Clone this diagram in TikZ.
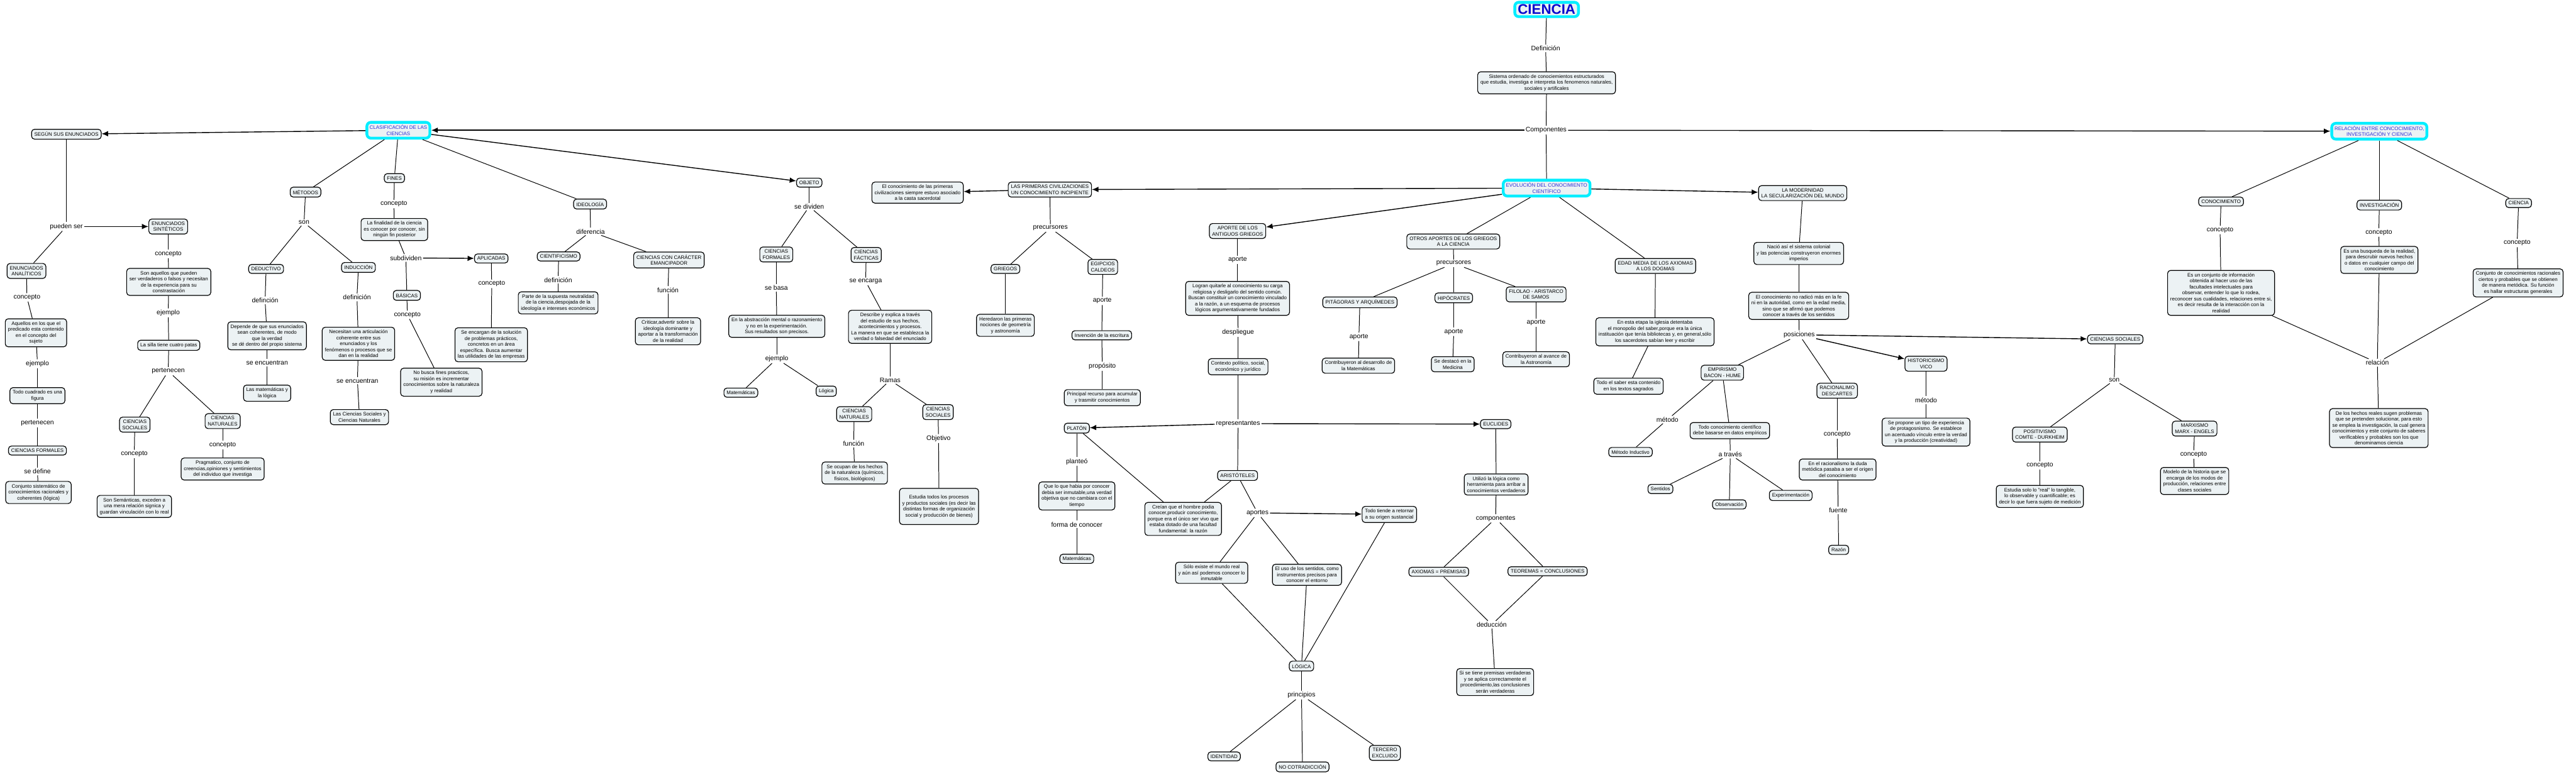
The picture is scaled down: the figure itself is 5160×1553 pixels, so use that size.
\documentclass[tikz,border=0pt]{standalone}
\usepackage{fontspec}
\setmainfont{Liberation Sans}
\usepackage{xcolor}
\usepackage{tikz}
\usetikzlibrary{arrows.meta}

\definecolor{boxfill}{RGB}{236,242,244}
\definecolor{hubcyan}{RGB}{0,238,255}
\definecolor{hubblue}{RGB}{45,45,215}
\definecolor{titleblue}{RGB}{10,10,205}

\tikzset{
  box/.style={draw, rounded corners=1.2mm, fill=boxfill, line width=0.3mm, align=center,
    inner xsep=1.1mm, inner ysep=1.1mm, font=\fontsize{5.7}{6.8}\selectfont},
  hub/.style={box, draw=hubcyan, line width=1.1mm, text=hubblue, rounded corners=1.6mm},
  titlebox/.style={hub, text=titleblue, inner xsep=1.2mm, inner ysep=0.9mm, font=\fontsize{16}{18}\selectfont\bfseries},
  lnk/.style={fill=white, inner sep=0.5mm, font=\fontsize{7.5}{8}\selectfont},
  ln/.style={line width=0.25mm},
  arr/.style={line width=0.35mm, -{Latex[length=2.6mm,width=2.2mm]}},
}

\begin{document}
\begin{tikzpicture}[x=0.2mm, y=-0.2mm]
  \fill[white] (0,0) rectangle (5160,1553);
  \useasboundingbox (0,0) rectangle (5160,1553);

  % centro
  \node[titlebox] (ciencia) at (3098,19) {CIENCIA};
  \node[lnk] (ldef) at (3096,97) {Definición};
  \node[box] (sistema) at (3098,166) {Sistema ordenado de conociemientos estructurados\\que estudia, investiga e interpreta los fenomenos naturales,\\sociales y artificales};
  \node[lnk] (lcomp) at (3097,261) {Componentes};
  \node[hub] (clasif) at (798,261) {CLASIFICACIÓN DE LAS\\CIENCIAS};
  \node[hub] (evol) at (3098,377) {EVOLUCIÓN DEL CONOCIMIENTO\\CIENTÍFICO};
  \node[hub] (relac) at (4766,263) {RELACIÓN ENTRE CONCOCIMIENTO,\\INVESTIGACIÓN Y CIENCIA};

  % enunciados
  \node[box] (segun) at (133,269) {SEGÚN SUS ENUNCIADOS};
  \node[lnk] (lpueden) at (133,454) {pueden ser};
  \node[box] (sint) at (337,454) {ENUNCIADOS\\SINTÉTICOS};
  \node[box] (anal) at (53,543) {ENUNCIADOS\\ANALÍTICOS};
  \node[lnk] (lanal) at (54,596) {concepto};
  \node[box] (aquellos) at (72,667) {Aquellos en los que el\\predicado esta contenido\\en el concepto del\\sujeto};
  \node[lnk] (lej1) at (75,729) {ejemplo};
  \node[box] (cuadrado) at (75,793) {Todo cuadrado es una\\figura};
  \node[lnk] (lpert1) at (75,848) {pertenecen};
  \node[box] (cform1) at (75,903) {CIENCIAS FORMALES};
  \node[lnk] (ldefine) at (75,945) {se define};
  \node[box] (conjsist) at (77,987) {Conjunto sistemático de\\conocimientos racionales y\\coherentes (lógica)};
  \node[lnk] (lsint) at (337,509) {concepto};
  \node[box] (sonaq) at (338,565) {Son aquellos que pueden\\ser verdaderos o falsos y necesitan\\de la experiencia para su\\constrastación};
  \node[lnk] (lej2) at (337,627) {ejemplo};
  \node[box] (silla) at (338,692) {La silla tiene cuatro patas};
  \node[lnk] (lpert2) at (337,744) {pertenecen};
  \node[box] (csoc1) at (270,851) {CIENCIAS\\SOCIALES};
  \node[box] (cnat1) at (446,844) {CIENCIAS\\NATURALES};
  \node[lnk] (lcsoc1) at (269,910) {concepto};
  \node[lnk] (lcnat1) at (446,892) {concepto};
  \node[box] (semant) at (269,1015) {Son Semánticas, exceden a\\una mera relación signica y\\guardan vinculación con lo real};
  \node[box] (pragm) at (446,940) {Pragmatico, conjunto de\\creencias,opiniones y sentimientos\\del individuo que investiga};

  % metodos
  \node[box] (metodos) at (612,385) {MÉTODOS};
  \node[lnk] (lson1) at (609,446) {son};
  \node[box] (deduc) at (533,539) {DEDUCTIVO};
  \node[box] (induc) at (718,536) {INDUCCIÓN};
  \node[lnk] (ldeduc) at (531,602) {definción};
  \node[box] (depende) at (535,673) {Depende de que sus enunciados\\sean coherentes, de modo\\que la verdad\\se dé dentro del propio sistema};
  \node[lnk] (lenc1) at (535,727) {se encuentran};
  \node[box] (matlog) at (535,788) {Las matemáticas y\\la lógica};
  \node[lnk] (linduc) at (715,596) {definición};
  \node[box] (necesitan) at (718,689) {Necesitan una articulación\\coherente entre sus\\enunciados y los\\fenómenos o procesos que se\\dan en la realidad};
  \node[lnk] (lenc2) at (716,763) {se encuentran};
  \node[box] (csycn) at (720,836) {Las Ciencias Sociales y\\Ciencias Naturales};

  % fines
  \node[box] (fines) at (790,357) {FINES};
  \node[lnk] (lfines) at (789,409) {concepto};
  \node[box] (finalidad) at (790,460) {La finalidad de la ciencia\\es conocer por conocer, sin\\ningún fin posterior};
  \node[lnk] (lsubdiv) at (813,517) {subdividen};
  \node[box] (aplic) at (984,518) {APLICADAS};
  \node[box] (basic) at (815,592) {BÁSICAS};
  \node[lnk] (lbasic) at (816,631) {concepto};
  \node[box] (nobusca) at (884,766) {No busca fines practicos,\\su misión es incrementar\\conocimientos sobre la naturaleza\\y realidad};
  \node[lnk] (laplic) at (985,569) {concepto};
  \node[box] (encargan) at (984,691) {Se encargan de la solución\\de problemas prácticos,\\concretos en un área\\específica. Busca aumentar\\las utilidades de las empresas};

  % ideologia
  \node[box] (ideol) at (1182,409) {IDEOLOGÍA};
  \node[lnk] (ldifer) at (1183,464) {diferencia};
  \node[box] (cientif) at (1119,514) {CIENTIFICISMO};
  \node[box] (emancip) at (1340,521) {CIENCIAS CON CARÁCTER\\EMANCIPADOR};
  \node[lnk] (lcientif) at (1118,561) {definición};
  \node[box] (parte) at (1118,607) {Parte de la supuesta neutralidad\\de la ciencia,despojada de la\\ideología e intereses económicos};
  \node[lnk] (lemanc) at (1338,581) {función};
  \node[box] (criticar) at (1338,664) {Criticar,advertir sobre la\\ideología dominante y\\aportar a la transformación\\de la realidad};

  % objeto
  \node[box] (objeto) at (1621,366) {OBJETO};
  \node[lnk] (ldivid) at (1621,414) {se dividen};
  \node[box] (cform2) at (1555,510) {CIENCIAS\\FORMALES};
  \node[box] (cfact) at (1735,511) {CIENCIAS\\FÁCTICAS};
  \node[lnk] (lbasa) at (1555,577) {se basa};
  \node[box] (abstrac) at (1556,654) {En la abstracción mental o razonamiento\\y no en la experimentación.\\Sus resultados son precisos.};
  \node[lnk] (lej3) at (1556,719) {ejemplo};
  \node[box] (matem1) at (1484,787) {Matemáticas};
  \node[box] (logica1) at (1655,784) {Lógica};
  \node[lnk] (lencarga) at (1734,564) {se encarga};
  \node[box] (describe) at (1783,655) {Describe y explica a través\\del estudio de sus hechos,\\acontecimientos y procesos.\\La manera en que se establezca la\\verdad o falsedad del enunciado};
  \node[lnk] (lramas) at (1783,762) {Ramas};
  \node[box] (cnat2) at (1711,830) {CIENCIAS\\NATURALES};
  \node[box] (csoc2) at (1879,826) {CIENCIAS\\SOCIALES};
  \node[lnk] (lfunc) at (1710,889) {función};
  \node[lnk] (lobj) at (1880,879) {Objetivo};
  \node[box] (seocupan) at (1712,948) {Se ocupan de los hechos\\de la naturaleza (químicos,\\físicos, biológicos)};
  \node[box, minimum height=14.5mm] (estudia) at (1881,1015) {Estudia todos los procesos\\y productos sociales (es decir las\\distintas formas de organización\\social y producción de bienes)};

  % primeras civilizaciones
  \node[box] (primciv) at (2103,380) {LAS PRIMERAS CIVILIZACIONES\\UN CONOCIMIENTO INCIPIENTE};
  \node[box] (conprim) at (1838,386) {El conocimiento de las primeras\\civilizaciones siempre estuvo asociado\\a la casta sacerdotal};
  \node[lnk] (lprec1) at (2104,457) {precursores};
  \node[box] (griegos) at (2014,539) {GRIEGOS};
  \node[box] (egipc) at (2209,535) {EGIPCIOS\\CALDEOS};
  \node[box] (heredaron) at (2014,652) {Heredaron las primeras\\nociones de geometría\\y astronomía};
  \node[lnk] (lap1) at (2208,603) {aporte};
  \node[box] (invenc) at (2207,672) {Invención de la escritura};
  \node[lnk] (lprop) at (2208,734) {propósito};
  \node[box] (recurso) at (2208,797) {Principal recurso para acumular\\y trasmitir conocimientos};

  % antiguos griegos
  \node[box] (antgr) at (2479,463) {APORTE DE LOS\\ANTIGUOS GRIEGOS};
  \node[lnk] (lap2) at (2479,521) {aporte};
  \node[box] (logran) at (2479,598) {Logran quitarle al conocimiento su carga\\religiosa y desligarlo del sentido común.\\Buscan constituir un conocimiento vinculado\\a la razón, a un esquema de procesos\\lógicos argumentativamente fundados};
  \node[lnk] (ldespl) at (2480,666) {despliegue};
  \node[box] (contexto) at (2480,735) {Contexto político, social,\\económico y jurídico};
  \node[lnk] (lrepr) at (2480,849) {representantes};
  \node[box] (platon) at (2157,858) {PLATÓN};
  \node[box] (euclides) at (2996,850) {EUCLIDES};
  \node[box] (aristo) at (2479,953) {ARISTÓTELES};
  \node[lnk] (lplant) at (2157,925) {planteó};
  \node[box] (queloque) at (2157,994) {Que lo que habia por conocer\\debia ser inmutable,una verdad\\objetiva que no cambiara con el\\tiempo};
  \node[lnk] (lforma) at (2157,1051) {forma de conocer};
  \node[box] (matem2) at (2157,1120) {Matemáticas};
  \node[box] (creian) at (2370,1040) {Creían que el hombre podia\\conocer,producir conocimiento,\\porque era el único ser vivo que\\estaba dotado de una facultad\\fundamental: la razón};
  \node[lnk] (laportes) at (2519,1028) {aportes};
  \node[box] (soloex) at (2427,1148) {Sólo existe el mundo real\\y aún así podemos conocer lo\\inmutable};
  \node[box] (usosent) at (2618,1152) {El uso de los sentidos, como\\instrumentos precisos para\\conocer el entorno};
  \node[box] (tiende) at (2783,1031) {Todo tiende a retornar\\a su origen sustancial};
  \node[box] (logica2) at (2607,1335) {LÓGICA};
  \node[lnk] (lprinc) at (2607,1393) {principios};
  \node[box] (identidad) at (2452,1516) {IDENTIDAD};
  \node[box] (nocontr) at (2609,1537) {NO COTRADICCIÓN};
  \node[box] (tercero) at (2774,1509) {TERCERO\\EXCLUIDO};
  \node[box] (utilizo) at (2997,971) {Utilizó la lógica como\\herramienta para arribar a\\conocimientos verdaderos};
  \node[lnk] (lcompo) at (2996,1039) {componentes};
  \node[box] (axiomas) at (2882,1146) {AXIOMAS = PREMISAS};
  \node[box] (teoremas) at (3100,1145) {TEOREMAS = CONCLUSIONES};
  \node[lnk] (ldeduc2) at (2988,1252) {deducción};
  \node[box] (sitiene) at (2995,1367) {Si se tiene premisas verdaderas\\y se aplica correctamente el\\procedimiento,las conclusiones\\serán verdaderas};

  % otros aportes
  \node[box] (otros) at (2911,484) {OTROS APORTES DE LOS GRIEGOS\\A LA CIENCIA};
  \node[lnk] (lprec2) at (2912,528) {precursores};
  \node[box] (pitag) at (2724,606) {PITÁGORAS Y ARQUÍMEDES};
  \node[box] (hipocr) at (2912,597) {HIPÓCRATES};
  \node[box] (filolao) at (3077,590) {FILOLAO - ARISTARCO\\DE SAMOS};
  \node[lnk] (lap3) at (2722,675) {aporte};
  \node[lnk] (lap4) at (2912,665) {aporte};
  \node[lnk] (lap5) at (3077,647) {aporte};
  \node[box] (contrmat) at (2721,733) {Contribuyeron al desarrollo de\\la Matemáticas};
  \node[box] (destaco) at (2910,730) {Se destacó en la\\Medicina};
  \node[box] (contrast) at (3077,720) {Contribuyeron al avance de\\la Astronomía};

  % edad media
  \node[box] (edadmed) at (3316,533) {EDAD MEDIA DE LOS AXIOMAS\\A LOS DOGMAS};
  \node[box] (etapa) at (3315,665) {En esta etapa la iglesia detentaba\\el monopolio del saber,porque era la única\\instituación que tenía bibliotecas y, en general,sólo\\los sacerdotes sabían leer y escribir};
  \node[box] (saber) at (3262,774) {Todo el saber esta contenido\\en los textos sagrados};

  % modernidad
  \node[box] (modern) at (3611,387) {LA MODERNIDAD\\LA SECULARIZACIÓN DEL MUNDO};
  \node[box] (nacio) at (3603,508) {Nació así el sistema colonial\\y las potencias construyeron enormes\\imperios};
  \node[box] (noradico) at (3603,613) {El conocimiento no radicó más en la fe\\ni en la autoridad, como en la edad media,\\sino que se afirmó que podemos\\conocer a través de los sentidos};
  \node[lnk] (lpos) at (3604,671) {posiciones};
  \node[box] (empir) at (3450,747) {EMPIRISMO\\BACON - HUME};
  \node[box] (racion) at (3680,783) {RACIONALIMO\\DESCARTES};
  \node[box] (histor) at (3858,729) {HISTORICISMO\\VICO};
  \node[box] (csoc3) at (4237,680) {CIENCIAS SOCIALES};
  \node[lnk] (lmet1) at (3340,841) {método};
  \node[box] (metind) at (3266,906) {Método Inductivo};
  \node[box] (datosemp) at (3465,863) {Todo conocimiento científico\\debe basarse en datos empíricos};
  \node[lnk] (ltraves) at (3466,911) {a través};
  \node[box] (sentidos) at (3326,980) {Sentidos};
  \node[box] (observ) at (3464,1011) {Observación};
  \node[box] (experim) at (3587,993) {Experimentación};
  \node[lnk] (lcrac) at (3680,871) {concepto};
  \node[box] (duda) at (3681,941) {En el racionalismo la duda\\metódica pasaba a ser el origen\\del conocimiento};
  \node[lnk] (lfuente) at (3682,1023) {fuente};
  \node[box] (razon) at (3683,1102) {Razón};
  \node[lnk] (lmet2) at (3858,802) {método};
  \node[box] (propone) at (3858,866) {Se propone un tipo de experiencia\\de protagosnismo. Se establece\\un acentuado vínculo entre la verdad\\y la producción (creatividad)};
  \node[lnk] (lson2) at (4235,762) {son};
  \node[box] (positiv) at (4086,871) {POSITIVISMO\\COMTE - DURKHEIM};
  \node[box] (marx) at (4396,859) {MARXISMO\\MARX - ENGELS};
  \node[lnk] (lpos2) at (4086,933) {concepto};
  \node[lnk] (lmarx) at (4394,911) {concepto};
  \node[box] (estsolo) at (4086,995) {Estudia solo lo "real" lo tangible,\\lo observable y cuantificable; es\\decir lo que fuera sujeto de medición};
  \node[box] (modelo) at (4396,964) {Modelo de la historia que se\\encarga de los modos de\\producción, relaciones entre\\clases sociales};

  % relacion
  \node[box] (conoc) at (4449,404) {CONOCIMIENTO};
  \node[box] (invest) at (4766,411) {INVESTIGACIÓN};
  \node[box] (cienc2) at (5045,407) {CIENCIA};
  \node[lnk] (lc1) at (4447,461) {concepto};
  \node[lnk] (lc2) at (4765,466) {concepto};
  \node[lnk] (lc3) at (5042,487) {concepto};
  \node[box] (esconj) at (4449,587) {Es un conjunto de información\\obtenida al hacer uso de las\\facultades intelectuales para\\observar, entender lo que lo rodea,\\reconocer sus cualidades, relaciones entre si,\\es decir resulta de la interacción con la\\realidad};
  \node[box] (busqueda) at (4766,521) {Es una busqueda de la realidad,\\para descrubir nuevos hechos\\o datos en cualquier campo del\\conocimiento};
  \node[box] (conjrac) at (5044,567) {Conjunto de conocimientos racionales\\ciertos y probables que se obtienen\\de manera metódica. Su función\\es hallar estructuras generales};
  \node[lnk] (lrel) at (4762,727) {relación};
  \node[box] (hechos) at (4765,858) {De los hechos reales sugen problemas\\que se pretenden solucionar, para esto\\se emplea la investigación, la cual genera\\conocimientos y este conjunto de saberes\\verificables y probables son los que\\denominamos ciencia};

  % conectores
  \path[ln]
    (ciencia) edge (ldef) (ldef) edge (sistema) (sistema) edge (lcomp) (lcomp) edge (evol)
    (clasif) edge (metodos) (clasif) edge (fines) (clasif) edge (ideol)
    (segun) edge (lpueden) (lpueden) edge (anal)
    (anal) edge (lanal) (lanal) edge (aquellos) (aquellos) edge (lej1) (lej1) edge (cuadrado)
    (cuadrado) edge (lpert1) (lpert1) edge (cform1) (cform1) edge (ldefine) (ldefine) edge (conjsist)
    (sint) edge (lsint) (lsint) edge (sonaq) (sonaq) edge (lej2) (lej2) edge (silla) (silla) edge (lpert2)
    (lpert2) edge (csoc1) (lpert2) edge (cnat1)
    (csoc1) edge (lcsoc1) (lcsoc1) edge (semant) (cnat1) edge (lcnat1) (lcnat1) edge (pragm)
    (metodos) edge (lson1) (lson1) edge (deduc) (lson1) edge (induc)
    (deduc) edge (ldeduc) (ldeduc) edge (depende) (depende) edge (lenc1) (lenc1) edge (matlog)
    (induc) edge (linduc) (linduc) edge (necesitan) (necesitan) edge (lenc2) (lenc2) edge (csycn)
    (fines) edge (lfines) (lfines) edge (finalidad) (finalidad) edge (lsubdiv) (lsubdiv) edge (basic)
    (basic) edge (lbasic) (lbasic) edge (nobusca) (aplic) edge (laplic) (laplic) edge (encargan)
    (ideol) edge (ldifer) (ldifer) edge (cientif) (ldifer) edge (emancip)
    (cientif) edge (lcientif) (lcientif) edge (parte) (emancip) edge (lemanc) (lemanc) edge (criticar)
    (objeto) edge (ldivid) (ldivid) edge (cform2) (ldivid) edge (cfact)
    (cform2) edge (lbasa) (lbasa) edge (abstrac) (abstrac) edge (lej3) (lej3) edge (matem1) (lej3) edge (logica1)
    (cfact) edge (lencarga) (lencarga) edge (describe) (describe) edge (lramas) (lramas) edge (cnat2) (lramas) edge (csoc2)
    (cnat2) edge (lfunc) (lfunc) edge (seocupan) (csoc2) edge (lobj) (lobj) edge (estudia);

  \path[ln]
    (primciv) edge (lprec1) (lprec1) edge (griegos) (lprec1) edge (egipc)
    (griegos) edge (heredaron) (egipc) edge (lap1) (lap1) edge (invenc) (invenc) edge (lprop) (lprop) edge (recurso)
    (antgr) edge (lap2) (lap2) edge (logran) (logran) edge (ldespl) (ldespl) edge (contexto) (contexto) edge (lrepr)
    (lrepr) edge (aristo)
    (platon) edge (lplant) (lplant) edge (queloque) (queloque) edge (lforma) (lforma) edge (matem2)
    (platon) edge (creian) (aristo) edge (creian)
    (aristo) edge (laportes) (laportes) edge (soloex) (laportes) edge (usosent)
    (soloex) edge (logica2) (usosent) edge (logica2) (tiende) edge (logica2)
    (logica2) edge (lprinc) (lprinc) edge (identidad) (lprinc) edge (nocontr) (lprinc) edge (tercero)
    (euclides) edge (utilizo) (utilizo) edge (lcompo) (lcompo) edge (axiomas) (lcompo) edge (teoremas)
    (axiomas) edge (ldeduc2) (teoremas) edge (ldeduc2) (ldeduc2) edge (sitiene)
    (evol) edge (otros) (otros) edge (lprec2) (lprec2) edge (pitag) (lprec2) edge (hipocr) (lprec2) edge (filolao)
    (pitag) edge (lap3) (lap3) edge (contrmat) (hipocr) edge (lap4) (lap4) edge (destaco)
    (filolao) edge (lap5) (lap5) edge (contrast)
    (evol) edge (edadmed) (edadmed) edge (etapa) (etapa) edge (saber)
    (modern) edge (nacio) (nacio) edge (noradico) (noradico) edge (lpos)
    (lpos) edge (empir) (lpos) edge (racion)
    (empir) edge (lmet1) (lmet1) edge (metind) (empir) edge (datosemp) (datosemp) edge (ltraves)
    (ltraves) edge (sentidos) (ltraves) edge (observ) (ltraves) edge (experim)
    (racion) edge (lcrac) (lcrac) edge (duda) (duda) edge (lfuente) (lfuente) edge (razon)
    (histor) edge (lmet2) (lmet2) edge (propone)
    (csoc3) edge (lson2) (lson2) edge (positiv) (lson2) edge (marx)
    (positiv) edge (lpos2) (lpos2) edge (estsolo) (marx) edge (lmarx) (lmarx) edge (modelo)
    (relac) edge (conoc) (relac) edge (invest) (relac) edge (cienc2)
    (conoc) edge (lc1) (lc1) edge (esconj) (invest) edge (lc2) (lc2) edge (busqueda)
    (cienc2) edge (lc3) (lc3) edge (conjrac)
    (esconj) edge (lrel) (busqueda) edge (lrel) (conjrac) edge (lrel) (lrel) edge (hechos);

  % flechas
  \path[arr]
    (lcomp) edge (clasif) (lcomp) edge (relac)
    (clasif) edge (segun) (clasif) edge (objeto)
    (lpueden) edge (sint) (lsubdiv) edge (aplic)
    (evol) edge (primciv) (primciv) edge (conprim)
    (evol) edge (antgr) (evol) edge (modern)
    (lrepr) edge (platon) (lrepr) edge (euclides)
    (laportes) edge (tiende)
    (lpos) edge (histor) (lpos) edge (csoc3);
\end{tikzpicture}
\end{document}
